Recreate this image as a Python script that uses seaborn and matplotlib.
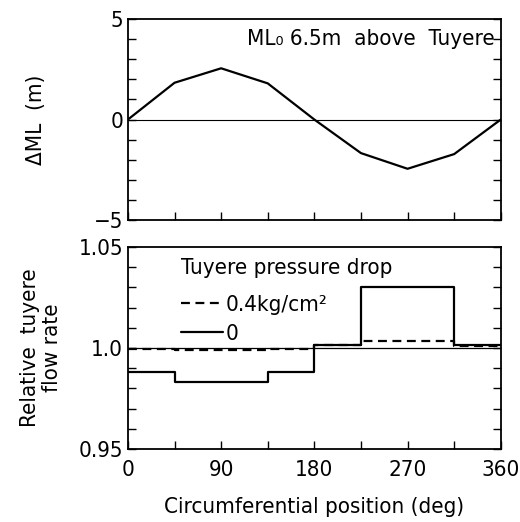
import numpy as np
import pandas as pd
import matplotlib
matplotlib.use("Agg")
import matplotlib.pyplot as plt
from matplotlib.ticker import MultipleLocator
import seaborn as sns

# Burden level deviation around the circumference
angle_ml = [0, 45, 90, 135, 180, 225, 270, 315, 360]
delta_ml = [0.0, 1.83, 2.55, 1.80, 0.0, -1.67, -2.45, -1.72, 0.0]

# Relative tuyere flow rate, piecewise constant by sector
sector_edges = [0, 45, 135, 180, 225, 315, 360]
flow_drop_04 = [0.9997, 0.9990, 0.9997, 1.0015, 1.0036, 1.0008, 1.0008]
flow_drop_0 = [0.9880, 0.9832, 0.9880, 1.0015, 1.0300, 1.0015, 1.0015]

x_ticks = [0, 90, 180, 270, 360]
x_ticklabels = ["0", "90", "180", "270", "360"]

sns.set_theme(style="ticks")
plt.rcParams["font.family"] = ["DejaVu Sans"]
plt.rcParams["font.stretch"] = "condensed"
plt.rcParams["text.color"] = "black"
plt.rcParams["axes.labelcolor"] = "black"
plt.rcParams["xtick.color"] = "black"
plt.rcParams["ytick.color"] = "black"
plt.rcParams["axes.linewidth"] = 1.3
plt.rcParams["axes.edgecolor"] = "black"

FS = 16

fig = plt.figure(figsize=(5.20, 5.22), dpi=100)
ax1 = fig.add_axes([0.246, 0.5785, 0.717, 0.385])
ax2 = fig.add_axes([0.246, 0.140, 0.717, 0.387])

# Top panel
df_ml = pd.DataFrame({"angle": angle_ml, "dml": delta_ml})
sns.lineplot(data=df_ml, x="angle", y="dml", ax=ax1, color="black", linewidth=1.6)
ax1.axhline(0, color="black", linewidth=0.8)
ax1.set_xlim(0, 360)
ax1.set_ylim(-5, 5)
ax1.set_yticks([-5, 0, 5])
ax1.set_yticklabels(["\u22125", "0", "5"])
ax1.yaxis.set_minor_locator(MultipleLocator(1))
ax1.set_xticks(np.arange(0, 361, 45))
ax1.set_xticklabels([])
ax1.set_xlabel("")
ax1.set_ylabel("\u0394ML  (m)", fontsize=FS, labelpad=34)
ax1.text(0.985, 0.9, "ML\u2080 6.5m  above  Tuyere", transform=ax1.transAxes,
         ha="right", va="center", fontsize=FS)

# Bottom panel
df_flow = pd.DataFrame({
    "angle": sector_edges * 2,
    "flow": flow_drop_04 + flow_drop_0,
    "drop": ["0.4kg/cm\u00b2"] * len(sector_edges) + ["0"] * len(sector_edges),
})
for label, ls in [("0.4kg/cm\u00b2", (0, (4, 2.5))), ("0", "-")]:
    sub = df_flow[df_flow["drop"] == label]
    sns.lineplot(data=sub, x="angle", y="flow", ax=ax2, color="black",
                 linewidth=1.6, drawstyle="steps-post", linestyle=ls,
                 label=label, sort=False)
ax2.axhline(1.0, color="black", linewidth=0.9)
ax2.set_xlim(0, 360)
ax2.set_ylim(0.95, 1.05)
ax2.set_yticks([0.95, 1.0, 1.05])
ax2.set_yticklabels(["0.95", "1.0", "1.05"])
ax2.yaxis.set_minor_locator(MultipleLocator(0.01))
ax2.set_xticks(x_ticks)
ax2.set_xticklabels(x_ticklabels)
ax2.xaxis.set_minor_locator(MultipleLocator(45))
ax2.set_xlabel("Circumferential position (deg)", fontsize=FS, labelpad=12)
ax2.set_ylabel("Relative  tuyere\nflow rate", fontsize=FS, labelpad=12, linespacing=1.1)
leg = ax2.legend(title="Tuyere pressure drop", loc="upper left", bbox_to_anchor=(0.1, 1.02),
                 frameon=False, fontsize=FS, title_fontsize=FS, handlelength=1.9,
                 handletextpad=0.1, borderpad=0.2, labelspacing=0.4)
leg._legend_box.align = "left"
leg._legend_box.sep = 12

for ax in (ax1, ax2):
    ax.tick_params(axis="both", which="both", direction="in", right=True, top=False,
                   labelsize=FS, color="black")
    ax.tick_params(axis="both", which="major", length=6, width=1.0)
    ax.tick_params(axis="both", which="minor", length=6, width=1.0)
    ax.tick_params(axis="x", which="major", pad=8)
    for s in ax.spines.values():
        s.set_visible(True)
        s.set_color("black")

fig.savefig("out.png", dpi=100, facecolor="white")
